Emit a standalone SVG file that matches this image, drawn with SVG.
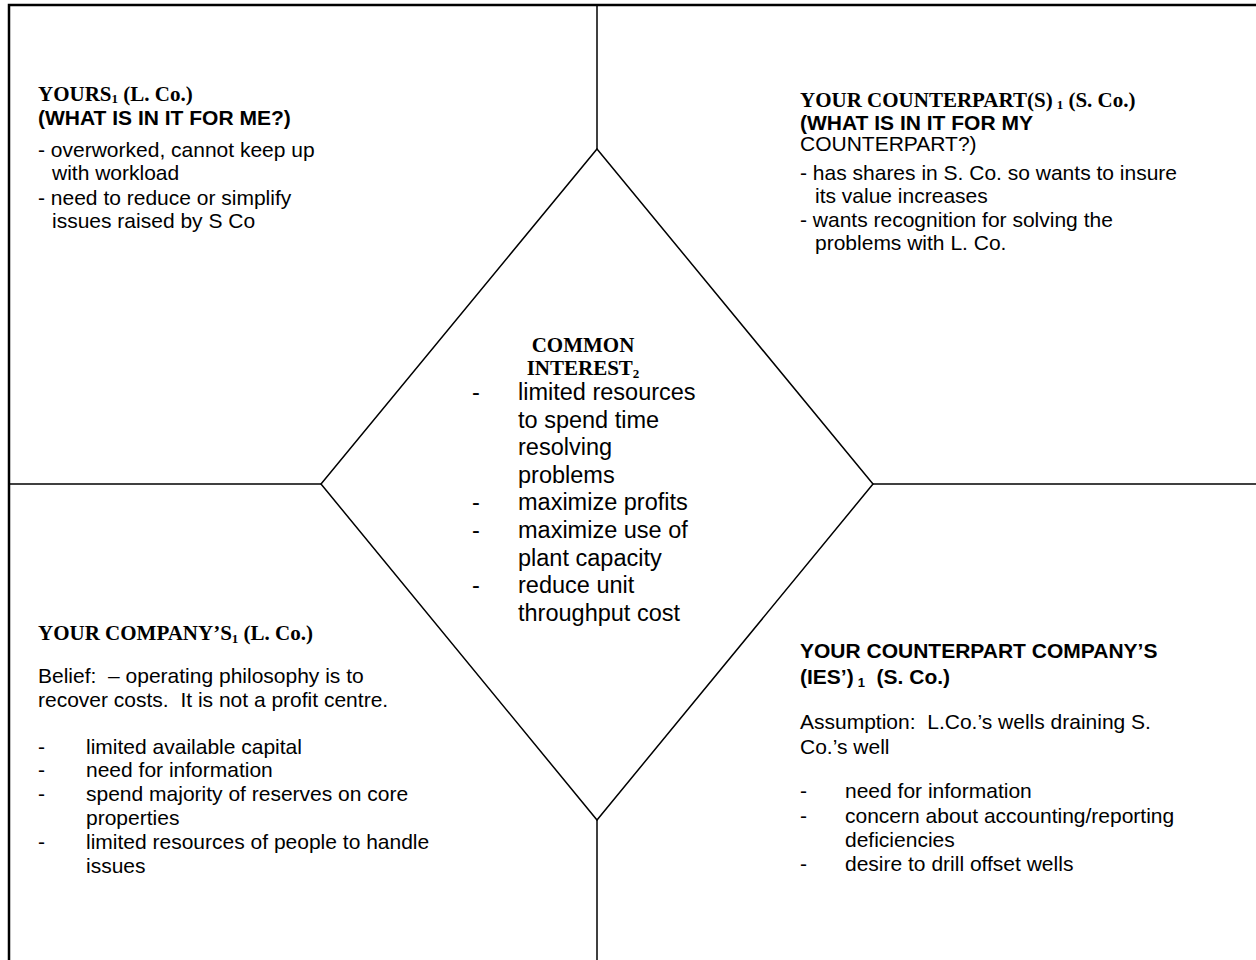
<svg xmlns="http://www.w3.org/2000/svg" width="1256" height="960" viewBox="0 0 1256 960">
  <style>
    .line { stroke: #000; stroke-width: 1.5; fill: none; }
    .frame { stroke: #000; stroke-width: 2.5; fill: none; }
    text { white-space: pre; fill: #000; }
    .body { font-family: "Liberation Sans", Arial, sans-serif; font-size: 21px; }
    .mid { font-family: "Liberation Sans", Arial, sans-serif; font-size: 23.5px; }
    .hb { font-family: "Liberation Sans", Arial, sans-serif; font-size: 21px; font-weight: bold; }
    .ht { font-family: "Liberation Serif", "Times New Roman", serif; font-size: 21px; font-weight: bold; }
    .sub { font-size: 13px; }
  </style>
  <rect width="1256" height="960" fill="#fff"/>

  <!-- outer frame and quadrant dividers -->
  <g id="connectors">
    <polyline class="frame" points="9,960 9,5 1256,5"/>
    <line class="line" x1="597" y1="5" x2="597" y2="149"/>
    <line class="line" x1="597" y1="820" x2="597" y2="960"/>
    <line class="line" x1="9" y1="484" x2="321" y2="484"/>
    <line class="line" x1="873" y1="484" x2="1256" y2="484"/>
  </g>

  <!-- top-left quadrant -->
  <g id="yours">
    <text class="ht" x="38" y="101">YOURS<tspan class="sub" dy="2">1</tspan><tspan dy="-2"> (L. Co.)</tspan></text>
    <text class="hb" x="38" y="125">(WHAT IS IN IT FOR ME?)</text>
    <text class="body" x="38" y="157">- overworked, cannot keep up</text>
    <text class="body" x="52" y="180">with workload</text>
    <text class="body" x="38" y="205">- need to reduce or simplify</text>
    <text class="body" x="52" y="228">issues raised by S Co</text>
  </g>

  <!-- top-right quadrant -->
  <g id="counterpart">
    <text class="ht" x="800" y="107">YOUR COUNTERPART(S)<tspan class="sub" dx="4" dy="2">1</tspan><tspan dy="-2"> (S. Co.)</tspan></text>
    <text class="hb" x="800" y="130">(WHAT IS IN IT FOR MY</text>
    <text class="body" x="800" y="151">COUNTERPART?)</text>
    <text class="body" x="800" y="180">- has shares in S. Co. so wants to insure</text>
    <text class="body" x="815" y="203">its value increases</text>
    <text class="body" x="800" y="227">- wants recognition for solving the</text>
    <text class="body" x="815" y="250">problems with L. Co.</text>
  </g>

  <!-- central diamond -->
  <g id="common-interest">
    <polygon class="line" points="597,149 873,484 597,820 321,484"/>
    <text class="ht" x="583" y="352" text-anchor="middle">COMMON</text>
    <text class="ht" x="583" y="375" text-anchor="middle">INTEREST<tspan class="sub" dy="3">2</tspan></text>
    <text class="mid" x="472" y="400">-</text>
    <text class="mid" x="518" y="400">limited resources</text>
    <text class="mid" x="518" y="427.6">to spend time</text>
    <text class="mid" x="518" y="455.2">resolving</text>
    <text class="mid" x="518" y="482.8">problems</text>
    <text class="mid" x="472" y="510.4">-</text>
    <text class="mid" x="518" y="510.4">maximize profits</text>
    <text class="mid" x="472" y="538">-</text>
    <text class="mid" x="518" y="538">maximize use of</text>
    <text class="mid" x="518" y="565.6">plant capacity</text>
    <text class="mid" x="472" y="593.2">-</text>
    <text class="mid" x="518" y="593.2">reduce unit</text>
    <text class="mid" x="518" y="620.8">throughput cost</text>
  </g>

  <!-- bottom-left quadrant -->
  <g id="your-company">
    <text class="ht" x="38" y="640">YOUR COMPANY’S<tspan class="sub" dy="3">1</tspan><tspan dy="-3"> (L. Co.)</tspan></text>
    <text class="body" x="38" y="683">Belief:  – operating philosophy is to</text>
    <text class="body" x="38" y="707">recover costs.  It is not a profit centre.</text>
    <text class="body" x="38" y="754">-</text>
    <text class="body" x="86" y="754">limited available capital</text>
    <text class="body" x="38" y="777">-</text>
    <text class="body" x="86" y="777">need for information</text>
    <text class="body" x="38" y="801">-</text>
    <text class="body" x="86" y="801">spend majority of reserves on core</text>
    <text class="body" x="86" y="825">properties</text>
    <text class="body" x="38" y="849">-</text>
    <text class="body" x="86" y="849">limited resources of people to handle</text>
    <text class="body" x="86" y="873">issues</text>
  </g>

  <!-- bottom-right quadrant -->
  <g id="counterpart-company">
    <text class="hb" x="800" y="658">YOUR COUNTERPART COMPANY’S</text>
    <text class="hb" x="800" y="684">(IES’)<tspan class="sub" dx="4" dy="3">1</tspan><tspan dy="-3">  (S. Co.)</tspan></text>
    <text class="body" x="800" y="729">Assumption:  L.Co.’s wells draining S.</text>
    <text class="body" x="800" y="754">Co.’s well</text>
    <text class="body" x="800" y="798">-</text>
    <text class="body" x="845" y="798">need for information</text>
    <text class="body" x="800" y="823">-</text>
    <text class="body" x="845" y="823">concern about accounting/reporting</text>
    <text class="body" x="845" y="847">deficiencies</text>
    <text class="body" x="800" y="871">-</text>
    <text class="body" x="845" y="871">desire to drill offset wells</text>
  </g>
</svg>
